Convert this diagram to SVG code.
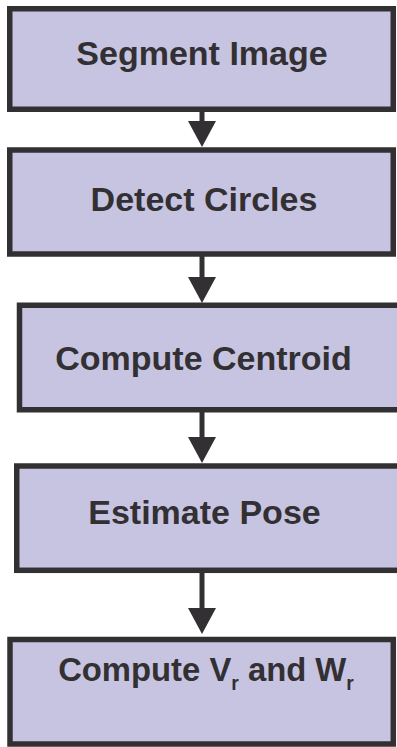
<svg xmlns="http://www.w3.org/2000/svg" width="397" height="747" viewBox="0 0 397 747">
  <style>
    .box { fill: #c7c4e2; stroke: #333033; stroke-width: 5.5; }
    .label { font-family: "Liberation Sans", Arial, sans-serif; font-weight: bold; font-size: 34px; fill: #333033; text-anchor: middle; }
    .sub { font-size: 20px; }
    .flow { stroke: #333033; stroke-width: 5; fill: none; marker-end: url(#head); }
  </style>
  <defs>
    <marker id="head" markerUnits="userSpaceOnUse" markerWidth="27" markerHeight="28" refX="0" refY="14" orient="auto" overflow="visible">
      <path d="M0,0 L26,14 L0,28 Z" fill="#333033"/>
    </marker>
  </defs>

  <g id="connectors">
    <line class="flow" x1="202" y1="112" x2="202" y2="121"/>
    <line class="flow" x1="202" y1="256" x2="202" y2="277"/>
    <line class="flow" x1="202" y1="412" x2="202" y2="437"/>
    <line class="flow" x1="202" y1="573" x2="202" y2="608"/>
  </g>

  <g id="segment-image">
    <rect class="box" x="9.75" y="8.75" width="383.5" height="100.5"/>
    <text class="label" x="202" y="64.5">Segment Image</text>
  </g>

  <g id="detect-circles">
    <rect class="box" x="9.75" y="150" width="383.5" height="104"/>
    <text class="label" x="204" y="210.5">Detect Circles</text>
  </g>

  <g id="compute-centroid">
    <rect class="box" x="19.5" y="305.25" width="400" height="104.5"/>
    <text class="label" x="203.5" y="369.5">Compute Centroid</text>
  </g>

  <g id="estimate-pose">
    <rect class="box" x="16.75" y="466" width="400" height="104.3"/>
    <text class="label" x="204.5" y="523.5">Estimate Pose</text>
  </g>

  <g id="compute-velocities">
    <rect class="box" x="10" y="639.5" width="383.3" height="104.5"/>
    <g transform="translate(206 680.5) scale(0.965 1)"><text class="label" x="0" y="0">Compute V<tspan class="sub" dy="9">r</tspan><tspan dy="-9"> and W</tspan><tspan class="sub" dy="9">r</tspan></text></g>
  </g>
</svg>
